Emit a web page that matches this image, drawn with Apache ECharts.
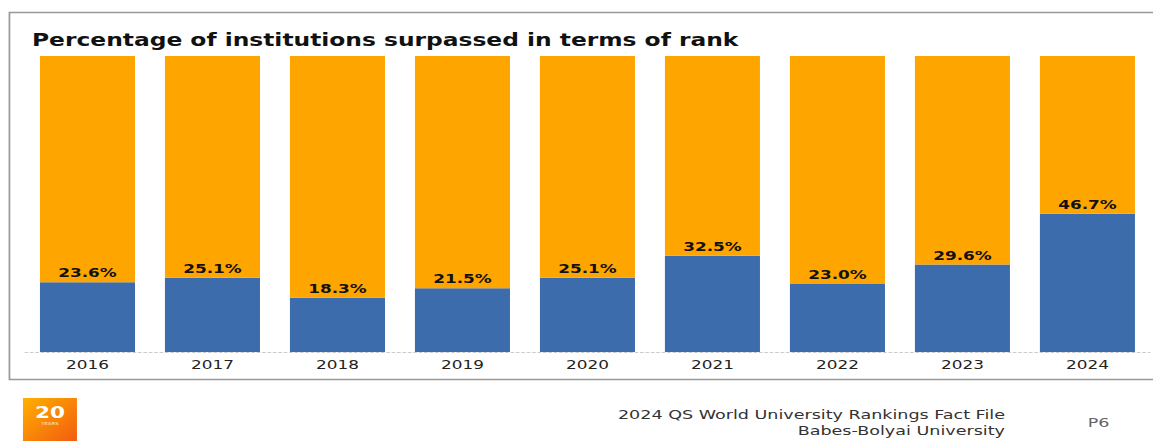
<!DOCTYPE html>
<html><head><meta charset="utf-8">
<script src="https://cdn.jsdelivr.net/npm/echarts@6/dist/echarts.min.js"></script>
<style>
html,body{margin:0;padding:0;background:#fff;overflow:hidden;width:1153px;height:441px}
#c{width:854px;height:441px;transform:scaleX(1.35);transform-origin:0 0}
</style>
</head><body><div id="c"></div>
<script>
const years = ['2016','2017','2018','2019','2020','2021','2022','2023','2024'];
const surpassed = [23.6, 25.1, 18.3, 21.5, 25.1, 32.5, 23.0, 29.6, 46.7];
const total = 100;
const remainder = surpassed.map(v => +(total - v).toFixed(1));
const FF = '"DejaVu Sans", Verdana, sans-serif';

const chart = echarts.init(document.getElementById('c'), null, {renderer: 'svg'});
chart.setOption({
  animation: false,
  backgroundColor: '#fff',
  title: {
    text: 'Percentage of institutions surpassed in terms of rank',
    left: 23.7, top: 32, padding: 0,
    textStyle: {fontFamily: FF, fontWeight: 'bold', fontSize: 17.3, color: '#111'}
  },
  grid: {left: 18.5, right: 2.2, top: 56, bottom: 89, containLabel: false},
  xAxis: {
    type: 'category', data: years,
    axisLine: {show: true, lineStyle: {color: '#ccc', type: [2, 2]}},
    axisTick: {show: false},
    axisLabel: {fontFamily: FF, fontSize: 12.5, color: '#222', margin: 6}
  },
  yAxis: {type: 'value', min: 0, max: total, show: false, splitLine: {show: false}},
  series: [
    {
      name: 'surpassed', type: 'bar', stack: 's', data: surpassed, barWidth: 70.4,
      itemStyle: {color: '#3C6CAB'},
      label: {show: true, position: 'top', distance: 3, formatter: p => p.value.toFixed(1) + '%',
        fontFamily: FF, fontWeight: 'bold', fontSize: 12.5, color: '#111'}
    },
    {
      name: 'rest', type: 'bar', stack: 's', data: remainder, barWidth: 70.4,
      itemStyle: {color: '#FFA500'}
    }
  ],
  graphic: [
    {type: 'rect', shape: {x: 7, y: 12.5, width: 900, height: 367}, silent: true, z: -1,
      style: {fill: 'none', stroke: '#999', lineWidth: 1.3}},
    {type: 'rect', shape: {x: 17, y: 398, width: 40, height: 45}, z: 5,
      style: {fill: new echarts.graphic.LinearGradient(0, 0, 1, 1, [{offset: 0, color: '#FFB000'}, {offset: 1, color: '#F25A10'}])}},
    {type: 'text', x: 37, y: 412, z: 6, style: {text: '20', fontFamily: FF, fontWeight: 'bold', fontSize: 16, fill: '#fff', align: 'center', verticalAlign: 'middle'}},
    {type: 'text', x: 37, y: 424, z: 6, style: {text: 'YEARS', fontFamily: FF, fontSize: 4, fill: '#ffe9c0', align: 'center', verticalAlign: 'middle'}},
    {type: 'text', x: 744.4, y: 415, style: {text: '2024 QS World University Rankings Fact File', fontFamily: FF, fontSize: 13, fill: '#333', align: 'right', verticalAlign: 'middle'}},
    {type: 'text', x: 744.4, y: 430.5, style: {text: 'Babes-Bolyai University', fontFamily: FF, fontSize: 13, fill: '#333', align: 'right', verticalAlign: 'middle'}},
    {type: 'text', x: 813.7, y: 422.5, style: {text: 'P6', fontFamily: FF, fontSize: 13, fill: '#666', align: 'center', verticalAlign: 'middle'}}
  ]
});
</script></body></html>
